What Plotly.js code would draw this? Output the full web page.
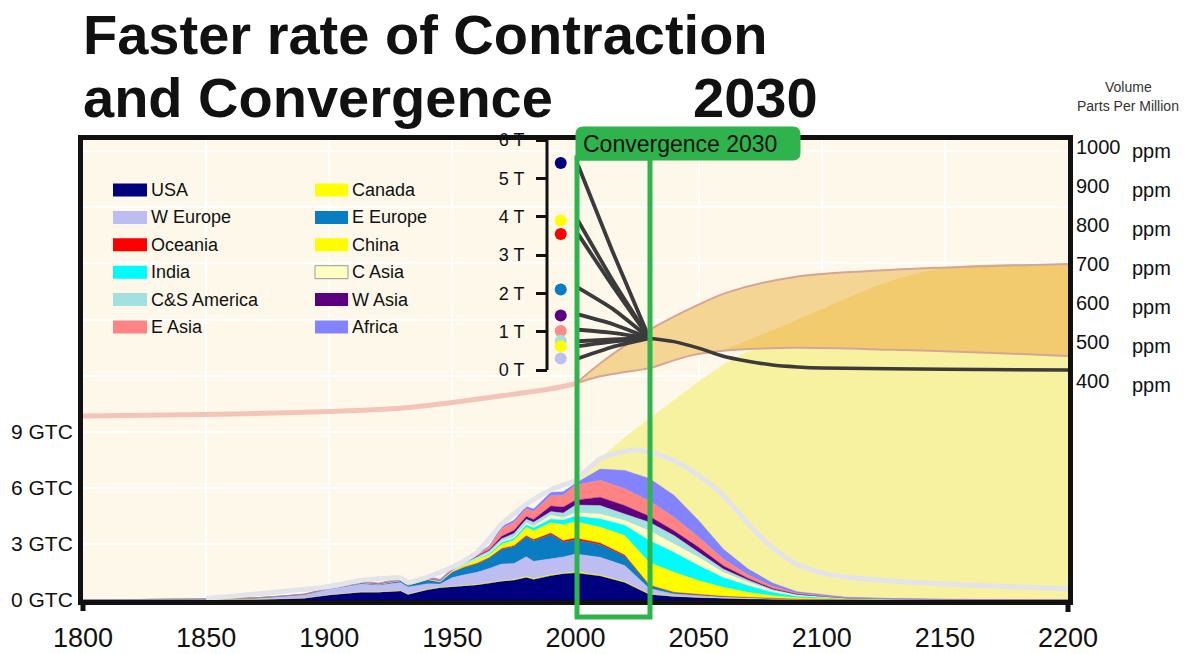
<!DOCTYPE html>
<html><head><meta charset="utf-8">
<script src="https://cdn.plot.ly/plotly-3.0.1.min.js"></script>
<style>html,body{margin:0;padding:0;background:#fff}#chart{width:1188px;height:654px}</style>
</head><body><div id="chart"></div>
<script>
// ---------------- DATA ----------------
const stackYears = [1800,1850,1870,1880,1890,1900,1910,1913,1920,1929,1932,1940,1945,1950,1955,1960,1965,1970,1975,1980,1983,1990,1995,2000,2010,2020,2030,2040,2050,2060,2070,2080,2090,2100,2110,2130,2150,2200];
const regionNames = ['USA','Canada','W Europe','E Europe','Oceania','China','India','C Asia','C&S America','W Asia','E Asia','Africa'];
const regionColors = ['#00007f','#ffff00','#bdbdf2','#0a7cc2','#ff0000','#fdfd00','#00fbfb','#ffffc4','#a3e0e0','#5c0080','#ff8383','#8383ff'];
const usa      = [0,0.01,0.03,0.06,0.1,0.27,0.37,0.42,0.42,0.48,0.3,0.55,0.65,0.7,0.75,0.8,0.9,1.0,1.05,1.2,1.1,1.3,1.4,1.45,1.28,0.93,0.3,0.19,0.13,0.08,0.06,0.04,0.02,0.012,0.007,0.003,0.002,0.001];
const canada   = [0,0,0,0,0.002,0.005,0.01,0.012,0.01,0.015,0.012,0.02,0.02,0.02,0.025,0.03,0.04,0.04,0.05,0.06,0.05,0.05,0.05,0.06,0.05,0.04,0.02,0.01,0.01,0.008,0.005,0.003,0.002,0.001,0.001,0,0,0];
const wEurope  = [0.005,0.04,0.08,0.12,0.18,0.3,0.38,0.42,0.36,0.44,0.38,0.3,0.18,0.48,0.58,0.65,0.75,0.89,0.85,1.05,0.92,0.85,0.85,0.95,0.96,0.87,0.3,0.12,0.09,0.07,0.05,0.03,0.015,0.01,0.005,0.003,0.002,0.001];
const eEurope  = [0,0.002,0.005,0.01,0.02,0.03,0.05,0.06,0.03,0.08,0.08,0.2,0.1,0.28,0.4,0.45,0.55,0.78,0.9,1.07,1.1,1.3,0.8,0.75,0.68,0.5,0.16,0.08,0.05,0.035,0.025,0.015,0.008,0.005,0.003,0.002,0.001,0];
const oceania  = [0,0,0,0,0.002,0.004,0.006,0.007,0.007,0.008,0.008,0.01,0.01,0.012,0.015,0.03,0.03,0.04,0.05,0.06,0.06,0.08,0.08,0.1,0.08,0.06,0.02,0.01,0.01,0.005,0.005,0.002,0.001,0.001,0,0,0,0];
const china    = [0,0,0,0,0,0.002,0.005,0.005,0.005,0.01,0.01,0.01,0.01,0.03,0.1,0.2,0.13,0.23,0.3,0.45,0.48,0.55,0.85,0.88,0.85,1.05,1.2,1.07,0.75,0.48,0.27,0.14,0.07,0.045,0.024,0.012,0.006,0.002];
const india    = [0,0,0,0,0.002,0.005,0.008,0.01,0.01,0.012,0.012,0.015,0.015,0.02,0.03,0.05,0.08,0.1,0.1,0.13,0.15,0.2,0.25,0.3,0.44,0.55,1.18,1.07,0.8,0.53,0.36,0.18,0.09,0.055,0.03,0.015,0.008,0.003];
const cAsia    = [0,0,0,0,0,0.002,0.003,0.004,0.003,0.005,0.005,0.008,0.008,0.01,0.015,0.02,0.03,0.06,0.07,0.1,0.1,0.2,0.12,0.18,0.26,0.25,0.52,0.45,0.45,0.27,0.18,0.09,0.05,0.03,0.016,0.008,0.004,0.001];
const csAmerica= [0,0,0,0,0.003,0.005,0.01,0.012,0.012,0.02,0.02,0.025,0.03,0.04,0.06,0.08,0.12,0.14,0.18,0.2,0.2,0.2,0.25,0.41,0.45,0.35,0.46,0.45,0.26,0.18,0.12,0.06,0.03,0.02,0.011,0.006,0.003,0.001];
const wAsia    = [0,0,0,0,0,0.001,0.002,0.003,0.003,0.005,0.005,0.008,0.008,0.01,0.02,0.04,0.06,0.13,0.17,0.15,0.15,0.3,0.32,0.26,0.45,0.45,0.32,0.25,0.27,0.18,0.09,0.06,0.03,0.02,0.011,0.006,0.003,0.001];
const eAsia    = [0,0,0.002,0.005,0.01,0.02,0.03,0.035,0.035,0.05,0.05,0.08,0.04,0.05,0.08,0.08,0.15,0.4,0.42,0.4,0.42,0.55,0.62,0.8,0.9,0.9,0.82,0.73,0.54,0.36,0.18,0.11,0.05,0.03,0.016,0.008,0.004,0.001];
const africa   = [0,0,0,0,0.005,0.01,0.02,0.02,0.02,0.03,0.03,0.04,0.04,0.05,0.06,0.05,0.05,0.12,0.12,0.14,0.14,0.18,0.2,0.1,0.6,0.98,1.2,1.17,0.89,0.53,0.32,0.18,0.08,0.05,0.027,0.015,0.008,0.003];
const regionValues = [usa,canada,wEurope,eEurope,oceania,china,india,cAsia,csAmerica,wAsia,eAsia,africa];

// upper "budget" envelope (GTC) – pale yellow area
const envYears = [2000,2010,2020,2030,2040,2050,2060,2070,2080,2100,2150,2200];
const envTop   = [6.3,7.6,8.7,9.7,10.7,11.7,12.6,13.3,13.5,13.5,13.5,13.5];
// light grey total line (GTC)
const greyYears = [1850,1900,1913,1929,1932,1950,1960,1970,1980,1990,2000,2010,2020,2027,2040,2050,2060,2070,2080,2090,2100,2110,2130,2150,2200];
const greyVals  = [0.08,0.72,1.05,1.18,0.95,1.75,2.55,4.05,5.12,5.9,6.4,7.55,7.95,8.0,7.46,6.66,5.6,4.1,2.8,1.9,1.45,1.23,1.0,0.85,0.6];

// concentration (ppm)
const ppmHistYears = [1800,1850,1900,1930,1950,1970,1990,2000];
const ppmHist      = [310,314,322,331,345,362,380,393];
const bandLowYears = [2000,2010,2020,2030,2040,2048,2062,2089,2129,2170,2200];
const bandLow      = [393,412,423,433,453,467,479,485,480,472,464];
const bandUpYears  = [2000,2010,2020,2030,2040,2048,2062,2089,2129,2170,2200];
const bandUp       = [393,445,490,531,565,590,628,667,685,695,700];
const darkLowYears = [2059,2062,2089,2129,2170,2200];
const darkLow      = [477,479,485,480,472,464];
const darkUpYears  = [2059,2080,2102,2125,2150,2200];
const darkUp       = [477,530,590,650,690,700];
const ppmTicks     = [400,500,600,700,800,900,1000];

// per-capita convergence (tonnes per capita)
const capStartYear = 2001, capMidYear = 2015, convYear = 2030;
const capStart = [5.35,3.9,3.55,2.15,1.45,1.05,0.75,0.62,0.3];
const capMid   = [3.1,2.35,2.2,1.6,1.2,0.97,0.8,0.74,0.6];
const convVal  = 0.83;
const postYears = [2030,2040,2050,2060,2070,2080,2090,2100,2150,2200];
const postVals  = [0.83,0.74,0.57,0.36,0.23,0.13,0.08,0.05,0.02,0.0];
const dotYear = 1994;
const dotVals   = [5.4,3.9,3.55,2.1,1.42,1.02,0.76,0.62,0.3];
const dotColors = ['#00007f','#ffff00','#ff0000','#0a7cc2','#5c0080','#ff8a8a','#a3e0e0','#ffff00','#c0c0f0'];
const tTicks = [0,1,2,3,4,5,6];

const gtcTicks = [0,3,6,9,12,15,18,21,24];
const gtcText  = ['0 GTC','3 GTC','6 GTC','9 GTC','','','','',''];
const yearTicks = [1800,1850,1900,1950,2000,2050,2100,2150,2200];

// ---------------- helpers (layout pixel -> paper) ----------------
const L = 83, R = 1068, T = 140, B = 600;
const px = x => (x - L) / (R - L);
const py = y => (B - y) / (B - T);
const FONT = 'Liberation Sans, Arial, Helvetica, sans-serif';

// ---------------- TRACES ----------------
const traces = [];
traces.push({x: envYears, y: envTop, type: 'scatter', mode: 'lines', fill: 'tozeroy',
  fillcolor: '#f6f29f', line: {width: 0, color: '#f6f29f'}, hoverinfo: 'skip', showlegend: false});
regionNames.forEach((n, i) => {
  traces.push({x: stackYears, y: regionValues[i], name: n, type: 'scatter', mode: 'lines',
    stackgroup: 'em', fillcolor: regionColors[i], line: {width: 0.4, color: regionColors[i]},
    showlegend: false});
});
traces.push({x: greyYears, y: greyVals, type: 'scatter', mode: 'lines', line: {color: '#e3e3ea', width: 5, shape: 'spline', smoothing: 0.6}, showlegend: false, hoverinfo: 'skip'});

// ppm traces
traces.push({x: ppmHistYears, y: ppmHist, yaxis: 'y2', type: 'scatter', mode: 'lines',
  line: {color: '#f4c4b9', width: 5, shape: 'spline'}, showlegend: false});
traces.push({x: bandLowYears, y: bandLow, yaxis: 'y2', type: 'scatter', mode: 'lines',
  line: {color: '#d9a894', width: 0}, showlegend: false});
traces.push({x: bandUpYears, y: bandUp, yaxis: 'y2', type: 'scatter', mode: 'lines', fill: 'tonexty',
  fillcolor: '#f4d594', line: {color: '#d9a894', width: 0, shape: 'spline'}, showlegend: false});
traces.push({x: darkLowYears, y: darkLow, yaxis: 'y2', type: 'scatter', mode: 'lines',
  line: {width: 0, color: '#f1c96a'}, showlegend: false});
traces.push({x: darkUpYears, y: darkUp, yaxis: 'y2', type: 'scatter', mode: 'lines', fill: 'tonexty',
  fillcolor: '#f1cb6e', line: {width: 0, color: '#f1cb6e', shape: 'spline'}, showlegend: false});
traces.push({x: bandUpYears, y: bandUp, yaxis: 'y2', type: 'scatter', mode: 'lines',
  line: {color: '#d6a597', width: 2, shape: 'spline'}, showlegend: false});
traces.push({x: bandLowYears, y: bandLow, yaxis: 'y2', type: 'scatter', mode: 'lines',
  line: {color: '#d6a597', width: 2, shape: 'spline'}, showlegend: false});

// per-capita inset
capStart.forEach((v, i) => {
  traces.push({x: [capStartYear, capMidYear, convYear], y: [v, capMid[i], convVal], xaxis: 'x2', yaxis: 'y3',
    type: 'scatter', mode: 'lines', line: {color: '#3b3b3b', width: 3.8, shape: 'spline', smoothing: 0.5}, showlegend: false});
});
traces.push({x: postYears, y: postVals, xaxis: 'x2', yaxis: 'y3', type: 'scatter', mode: 'lines',
  line: {color: '#3b3b3b', width: 3.5, shape: 'spline', smoothing: 0.8}, showlegend: false});
traces.push({x: dotVals.map(() => dotYear), y: dotVals, xaxis: 'x2', yaxis: 'y3', type: 'scatter', mode: 'markers',
  marker: {color: dotColors, size: 12}, showlegend: false});

// ---------------- SHAPES / ANNOTATIONS ----------------
const green = '#2fb34c';
const shapes = [
  {type: 'rect', xref: 'paper', yref: 'paper', x0: 0, x1: 1, y0: 0, y1: 1, fillcolor: '#fdf8ea', line: {width: 0}, layer: 'below'},
  {type: 'line', xref: 'paper', yref: 'y3', x0: px(547), x1: px(547), y0: 0, y1: 6, line: {color: '#111', width: 3}},
  {type: 'line', xref: 'paper', yref: 'paper', x0: 0, x1: 0, y0: 0, y1: py(611), line: {color: '#111', width: 5}},
  {type: 'line', xref: 'paper', yref: 'paper', x0: 1, x1: 1, y0: 0, y1: py(612), line: {color: '#111', width: 5}},
  {type: 'rect', xref: 'paper', yref: 'paper', x0: px(577), x1: px(650), y0: py(617), y1: py(158), line: {color: green, width: 5}},
  {type: 'path', xref: 'paper', yref: 'paper', fillcolor: green, line: {color: green, width: 1},
   path: `M ${px(576)},${py(160)} L ${px(576)},${py(134)} Q ${px(576)},${py(127)} ${px(583)},${py(127)} L ${px(793)},${py(127)} Q ${px(800)},${py(127)} ${px(800)},${py(134)} L ${px(800)},${py(153)} Q ${px(800)},${py(160)} ${px(793)},${py(160)} Z`}
];
const annotations = [
  {xref: 'paper', yref: 'paper', x: px(81), y: py(34.5), xanchor: 'left', yanchor: 'middle', showarrow: false,
   text: '<b>Faster rate of Contraction</b>', font: {family: FONT, size: 56, color: '#111'}},
  {xref: 'paper', yref: 'paper', x: px(81), y: py(97.5), xanchor: 'left', yanchor: 'middle', showarrow: false,
   text: '<b>and Convergence</b>', font: {family: FONT, size: 56, color: '#111'}},
  {xref: 'paper', yref: 'paper', x: px(820), y: py(97.5), xanchor: 'right', yanchor: 'middle', showarrow: false,
   text: '<b>2030</b>', font: {family: FONT, size: 56, color: '#111'}},
  {xref: 'paper', yref: 'paper', x: px(1128), y: py(87), xanchor: 'center', yanchor: 'middle', showarrow: false,
   text: 'Volume', font: {family: FONT, size: 14, color: '#333'}},
  {xref: 'paper', yref: 'paper', x: px(1128), y: py(106), xanchor: 'center', yanchor: 'middle', showarrow: false,
   text: 'Parts Per Million', font: {family: FONT, size: 14, color: '#333'}},
  {xref: 'paper', yref: 'paper', x: px(581), y: py(144), xanchor: 'left', yanchor: 'middle', showarrow: false,
   text: 'Convergence 2030', font: {family: FONT, size: 23, color: '#111'}}
];
ppmTicks.forEach(v => annotations.push({xref: 'paper', yref: 'y2', x: px(1130), y: v, yshift: -4, xanchor: 'left', yanchor: 'middle',
  showarrow: false, text: 'ppm', font: {family: FONT, size: 20, color: '#111'}}));

// custom two-column legend
regionNames.forEach((n, i) => {
  const col = i % 2, row = Math.floor(i / 2);
  const yc = 190 + row * 27.4;
  const x0 = col === 0 ? 113 : 315, x1 = col === 0 ? 147 : 348;
  shapes.push({type: 'rect', xref: 'paper', yref: 'paper', x0: px(x0), x1: px(x1), y0: py(yc + 6.5), y1: py(yc - 6.5),
    fillcolor: regionColors[i], line: {width: n === 'C Asia' ? 1 : 0, color: '#999'}});
  annotations.push({xref: 'paper', yref: 'paper', x: px(x1 + 2), y: py(yc), xanchor: 'left', yanchor: 'middle', showarrow: false,
    text: n, font: {family: FONT, size: 18, color: '#111'}});
});

const layout = {
  width: 1188, height: 654,
  margin: {l: L, r: 1188 - R, t: T, b: 654 - B, pad: 0},
  paper_bgcolor: '#ffffff', plot_bgcolor: 'rgba(0,0,0,0)',
  font: {family: FONT, color: '#111'},
  showlegend: false,
  xaxis: {range: [1800, 2200], tickvals: yearTicks, ticks: '', showgrid: true, gridcolor: '#ffffff', gridwidth: 2,
    showline: true, mirror: true, linecolor: '#111', linewidth: 5, zeroline: false,
    tickfont: {size: 27, color: '#111'}, ticklabelstandoff: 10},
  yaxis: {range: [0, 24.6], tickvals: gtcTicks, ticktext: gtcText, ticks: '', showgrid: true, gridcolor: '#ffffff', gridwidth: 2,
    showline: true, mirror: true, linecolor: '#111', linewidth: 5, zeroline: false,
    tickfont: {size: 21, color: '#111'}, ticklabelstandoff: 1},
  yaxis2: {overlaying: 'y', side: 'right', range: [-161.5, 1018], tickvals: ppmTicks, ticks: '', showgrid: false,
    zeroline: false, showline: false, tickfont: {size: 20, color: '#111'}, ticklabelstandoff: 7},
  xaxis2: {domain: [0, 1], range: [1800, 2200], anchor: 'y3', visible: false, showgrid: false, zeroline: false},
  yaxis3: {domain: [0.475, 1.0], range: [-0.3, 6], anchor: 'free', position: px(547), side: 'left',
    tickvals: tTicks, ticktext: tTicks.map(v => v + ' T'), ticks: 'outside', ticklen: 11, tickwidth: 3, tickcolor: '#111',
    showgrid: false, zeroline: false, showline: false, tickfont: {size: 18, color: '#111'}, ticklabelstandoff: 8},
  shapes: shapes,
  annotations: annotations
};
Plotly.newPlot('chart', traces, layout, {displayModeBar: false, staticPlot: true});
</script></body></html>
